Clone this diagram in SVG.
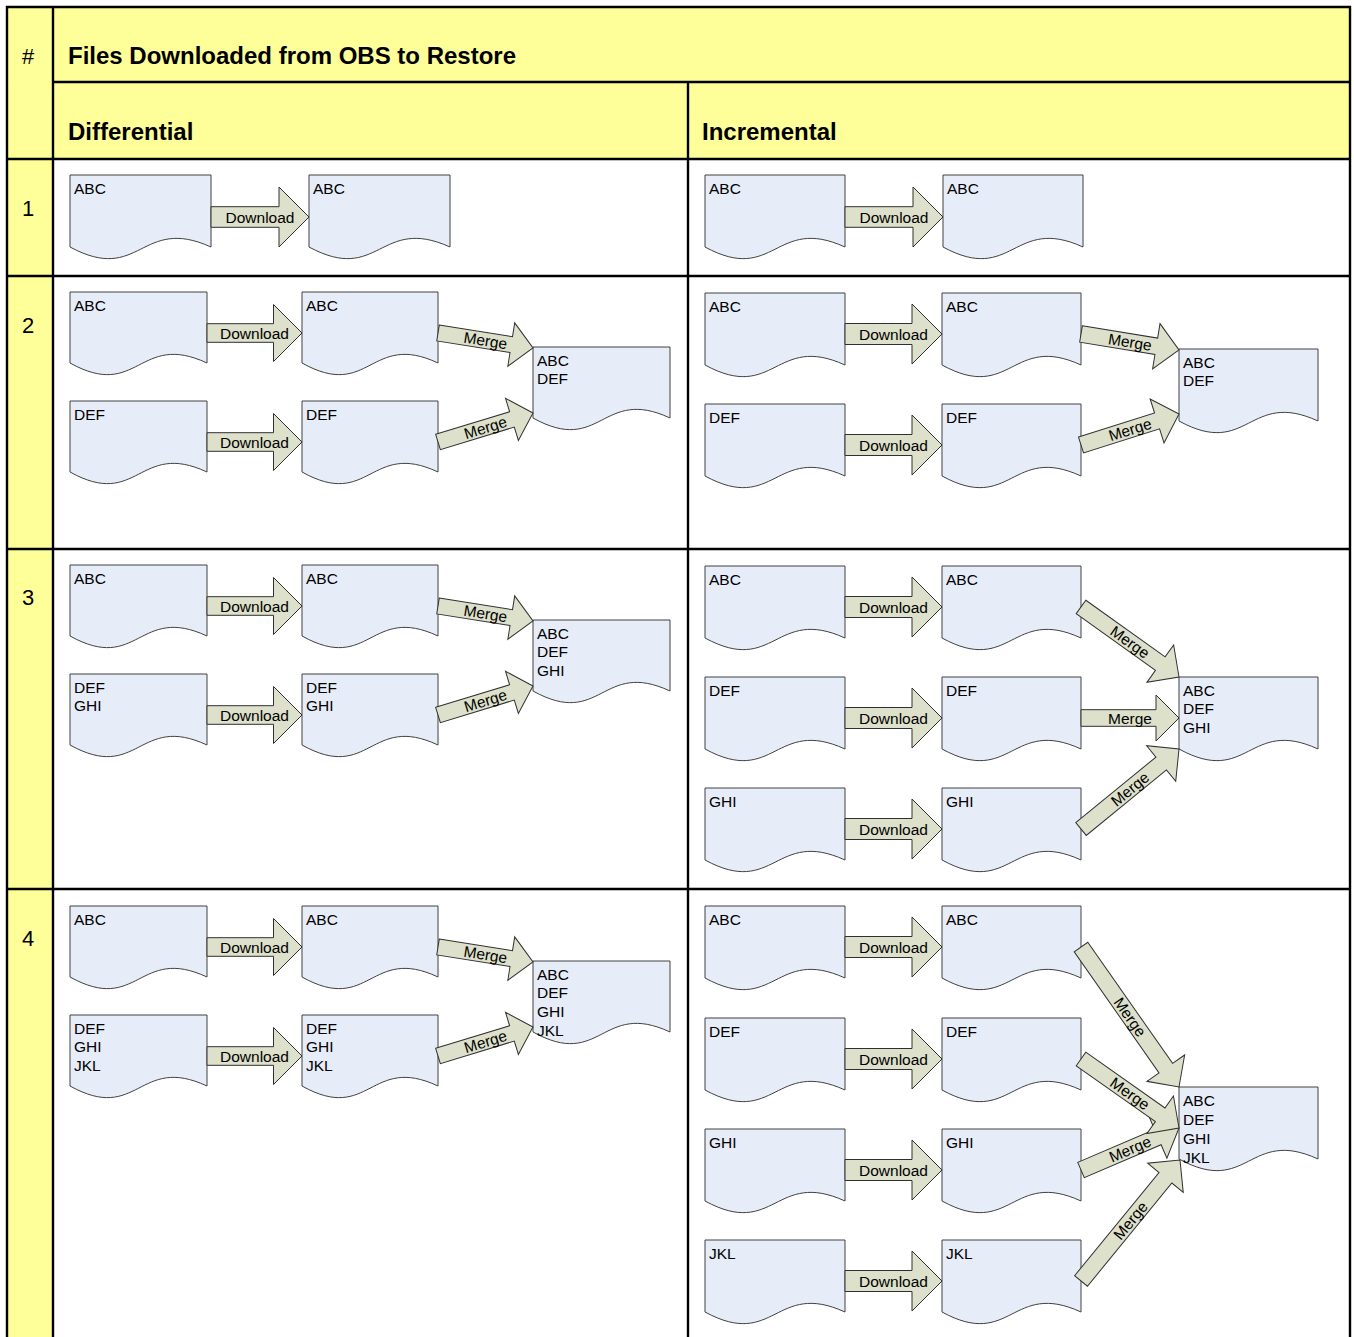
<svg xmlns="http://www.w3.org/2000/svg" xmlns:xlink="http://www.w3.org/1999/xlink" width="1354" height="1337" viewBox="0 0 1354 1337">
<style>
text{font-family:"Liberation Sans",Arial,sans-serif;fill:#000}
.t{font-size:15.5px}
.c{font-size:15.5px;text-anchor:middle}
.h{font-size:24px;font-weight:bold}
.n{font-size:22px}
.doc{fill:#E7EDF8;stroke:#404040;stroke-width:1}
.arr{fill:#DDE0CA;stroke:#303030;stroke-width:1}
.ln{stroke:#000;stroke-width:2.4;fill:none}
</style>
<defs>
<path id="d141" class="doc" d="M0,0H141V72C70.5,40 70.5,110 0,72Z"/>
<path id="d140" class="doc" d="M0,0H140V72C70,40 70,110 0,72Z"/>
<path id="d139" class="doc" d="M0,0H139V72C69.5,40 69.5,110 0,72Z"/>
<path id="d137" class="doc" d="M0,0H137V71C68.5,39 68.5,109 0,71Z"/>
<path id="d136" class="doc" d="M0,0H136V71C68,39 68,109 0,71Z"/>
<polygon id="dl1" class="arr" points="0,-10.3 68,-10.3 68,-30 98,0 68,30 68,10.3 0,10.3"/>
<polygon id="dlD" class="arr" points="0,-9.3 66.5,-9.3 66.5,-28.5 95,0 66.5,28.5 66.5,9.3 0,9.3"/>
<polygon id="dlI" class="arr" points="0,-10.5 67,-10.5 67,-30 97,0 67,30 67,10.5 0,10.5"/>
</defs>

<g id="table">
<rect x="0" y="0" width="1354" height="1337" fill="#fff"/>
<rect x="7" y="7" width="1343" height="152" fill="#FFFF99"/>
<rect x="7" y="7" width="46" height="1330" fill="#FFFF99"/>
<path class="ln" d="M7,5.8V1337M5.8,7H1351.2M1350,5.8V1337M53,7V1337M53,82H1350M5.8,159H1350M5.8,276H1350M5.8,549H1350M5.8,889H1350M688,82V1337"/>
<text class="n" x="22" y="64">#</text>
<text class="h" x="68" y="64">Files Downloaded from OBS to Restore</text>
<text class="h" x="68" y="140">Differential</text>
<text class="h" x="702" y="140">Incremental</text>
<text class="n" x="22" y="216">1</text>
<text class="n" x="22" y="333">2</text>
<text class="n" x="22" y="605">3</text>
<text class="n" x="22" y="946">4</text>
</g>

<!-- Row 1 -->
<g id="r1d_src" transform="translate(70,175)"><use xlink:href="#d141"/><text class="t" x="4" y="18.5">ABC</text></g>
<g id="r1d_dst" transform="translate(309,175)"><use xlink:href="#d141"/><text class="t" x="4" y="18.5">ABC</text></g>
<g id="r1i_src" transform="translate(705,175)"><use xlink:href="#d140"/><text class="t" x="4" y="18.5">ABC</text></g>
<g id="r1i_dst" transform="translate(943,175)"><use xlink:href="#d140"/><text class="t" x="4" y="18.5">ABC</text></g>

<!-- Row 2 differential -->
<g id="r2d_a1" transform="translate(70,292)"><use xlink:href="#d137"/><text class="t" x="4" y="18.5">ABC</text></g>
<g id="r2d_a2" transform="translate(302,292)"><use xlink:href="#d136"/><text class="t" x="4" y="18.5">ABC</text></g>
<g id="r2d_b1" transform="translate(70,401)"><use xlink:href="#d137"/><text class="t" x="4" y="18.5">DEF</text></g>
<g id="r2d_b2" transform="translate(302,401)"><use xlink:href="#d136"/><text class="t" x="4" y="18.5">DEF</text></g>
<g id="r2d_t" transform="translate(533,347)"><use xlink:href="#d137"/><text class="t" x="4" y="18.5">ABC</text><text class="t" x="4" y="37.2">DEF</text></g>

<!-- Row 3 differential -->
<g id="r3d_a1" transform="translate(70,565)"><use xlink:href="#d137"/><text class="t" x="4" y="18.5">ABC</text></g>
<g id="r3d_a2" transform="translate(302,565)"><use xlink:href="#d136"/><text class="t" x="4" y="18.5">ABC</text></g>
<g id="r3d_b1" transform="translate(70,674)"><use xlink:href="#d137"/><text class="t" x="4" y="18.5">DEF</text><text class="t" x="4" y="37.2">GHI</text></g>
<g id="r3d_b2" transform="translate(302,674)"><use xlink:href="#d136"/><text class="t" x="4" y="18.5">DEF</text><text class="t" x="4" y="37.2">GHI</text></g>
<g id="r3d_t" transform="translate(533,620)"><use xlink:href="#d137"/><text class="t" x="4" y="18.5">ABC</text><text class="t" x="4" y="37.2">DEF</text><text class="t" x="4" y="55.9">GHI</text></g>

<!-- Row 4 differential -->
<g id="r4d_a1" transform="translate(70,906)"><use xlink:href="#d137"/><text class="t" x="4" y="18.5">ABC</text></g>
<g id="r4d_a2" transform="translate(302,906)"><use xlink:href="#d136"/><text class="t" x="4" y="18.5">ABC</text></g>
<g id="r4d_b1" transform="translate(70,1015)"><use xlink:href="#d137"/><text class="t" x="4" y="18.5">DEF</text><text class="t" x="4" y="37.2">GHI</text><text class="t" x="4" y="55.9">JKL</text></g>
<g id="r4d_b2" transform="translate(302,1015)"><use xlink:href="#d136"/><text class="t" x="4" y="18.5">DEF</text><text class="t" x="4" y="37.2">GHI</text><text class="t" x="4" y="55.9">JKL</text></g>
<g id="r4d_t" transform="translate(533,961)"><use xlink:href="#d137"/><text class="t" x="4" y="18.5">ABC</text><text class="t" x="4" y="37.2">DEF</text><text class="t" x="4" y="55.9">GHI</text><text class="t" x="4" y="74.6">JKL</text></g>

<!-- Row 2 incremental -->
<g id="r2i_a1" transform="translate(705,293)"><use xlink:href="#d140"/><text class="t" x="4" y="18.5">ABC</text></g>
<g id="r2i_a2" transform="translate(942,293)"><use xlink:href="#d139"/><text class="t" x="4" y="18.5">ABC</text></g>
<g id="r2i_b1" transform="translate(705,404)"><use xlink:href="#d140"/><text class="t" x="4" y="18.5">DEF</text></g>
<g id="r2i_b2" transform="translate(942,404)"><use xlink:href="#d139"/><text class="t" x="4" y="18.5">DEF</text></g>
<g id="r2i_t" transform="translate(1179,349)"><use xlink:href="#d139"/><text class="t" x="4" y="18.5">ABC</text><text class="t" x="4" y="37.2">DEF</text></g>

<!-- Row 3 incremental -->
<g id="r3i_a1" transform="translate(705,566)"><use xlink:href="#d140"/><text class="t" x="4" y="18.5">ABC</text></g>
<g id="r3i_a2" transform="translate(942,566)"><use xlink:href="#d139"/><text class="t" x="4" y="18.5">ABC</text></g>
<g id="r3i_b1" transform="translate(705,677)"><use xlink:href="#d140"/><text class="t" x="4" y="18.5">DEF</text></g>
<g id="r3i_b2" transform="translate(942,677)"><use xlink:href="#d139"/><text class="t" x="4" y="18.5">DEF</text></g>
<g id="r3i_c1" transform="translate(705,788)"><use xlink:href="#d140"/><text class="t" x="4" y="18.5">GHI</text></g>
<g id="r3i_c2" transform="translate(942,788)"><use xlink:href="#d139"/><text class="t" x="4" y="18.5">GHI</text></g>
<g id="r3i_t" transform="translate(1179,677)"><use xlink:href="#d139"/><text class="t" x="4" y="18.5">ABC</text><text class="t" x="4" y="37.2">DEF</text><text class="t" x="4" y="55.9">GHI</text></g>

<!-- Row 4 incremental -->
<g id="r4i_a1" transform="translate(705,906)"><use xlink:href="#d140"/><text class="t" x="4" y="18.5">ABC</text></g>
<g id="r4i_a2" transform="translate(942,906)"><use xlink:href="#d139"/><text class="t" x="4" y="18.5">ABC</text></g>
<g id="r4i_b1" transform="translate(705,1018)"><use xlink:href="#d140"/><text class="t" x="4" y="18.5">DEF</text></g>
<g id="r4i_b2" transform="translate(942,1018)"><use xlink:href="#d139"/><text class="t" x="4" y="18.5">DEF</text></g>
<g id="r4i_c1" transform="translate(705,1129)"><use xlink:href="#d140"/><text class="t" x="4" y="18.5">GHI</text></g>
<g id="r4i_c2" transform="translate(942,1129)"><use xlink:href="#d139"/><text class="t" x="4" y="18.5">GHI</text></g>
<g id="r4i_d1" transform="translate(705,1240)"><use xlink:href="#d140"/><text class="t" x="4" y="18.5">JKL</text></g>
<g id="r4i_d2" transform="translate(942,1240)"><use xlink:href="#d139"/><text class="t" x="4" y="18.5">JKL</text></g>
<g id="r4i_t" transform="translate(1179,1087)"><use xlink:href="#d139"/><text class="t" x="4" y="18.5">ABC</text><text class="t" x="4" y="37.5">DEF</text><text class="t" x="4" y="56.5">GHI</text><text class="t" x="4" y="75.5">JKL</text></g>

<g id="connectors">
<!-- Download arrows -->
<g transform="translate(211,217)"><use xlink:href="#dl1"/><text class="c" x="49" y="5.5">Download</text></g>
<g transform="translate(845,217)"><use xlink:href="#dl1"/><text class="c" x="49" y="5.5">Download</text></g>

<g transform="translate(207,333)"><use xlink:href="#dlD"/><text class="c" x="47.5" y="5.5">Download</text></g>
<g transform="translate(207,442)"><use xlink:href="#dlD"/><text class="c" x="47.5" y="5.5">Download</text></g>
<g transform="translate(207,606)"><use xlink:href="#dlD"/><text class="c" x="47.5" y="5.5">Download</text></g>
<g transform="translate(207,715)"><use xlink:href="#dlD"/><text class="c" x="47.5" y="5.5">Download</text></g>
<g transform="translate(207,947)"><use xlink:href="#dlD"/><text class="c" x="47.5" y="5.5">Download</text></g>
<g transform="translate(207,1056)"><use xlink:href="#dlD"/><text class="c" x="47.5" y="5.5">Download</text></g>

<g transform="translate(845,334)"><use xlink:href="#dlI"/><text class="c" x="48.5" y="5.5">Download</text></g>
<g transform="translate(845,445)"><use xlink:href="#dlI"/><text class="c" x="48.5" y="5.5">Download</text></g>
<g transform="translate(845,607)"><use xlink:href="#dlI"/><text class="c" x="48.5" y="5.5">Download</text></g>
<g transform="translate(845,718)"><use xlink:href="#dlI"/><text class="c" x="48.5" y="5.5">Download</text></g>
<g transform="translate(845,829)"><use xlink:href="#dlI"/><text class="c" x="48.5" y="5.5">Download</text></g>
<g transform="translate(845,947)"><use xlink:href="#dlI"/><text class="c" x="48.5" y="5.5">Download</text></g>
<g transform="translate(845,1059)"><use xlink:href="#dlI"/><text class="c" x="48.5" y="5.5">Download</text></g>
<g transform="translate(845,1170)"><use xlink:href="#dlI"/><text class="c" x="48.5" y="5.5">Download</text></g>
<g transform="translate(845,1281)"><use xlink:href="#dlI"/><text class="c" x="48.5" y="5.5">Download</text></g>

<!-- Merge arrows: differential -->
<g transform="translate(438,333) rotate(8.97)"><polygon class="arr" points="0,-8 74.18,-8 74.18,-22 96.18,0 74.18,22 74.18,8 0,8"/><text class="c" x="48.09" y="5.5">Merge</text></g>
<g transform="translate(438,442) rotate(-16.98)"><polygon class="arr" points="0,-8 77.33,-8 77.33,-22 99.33,0 77.33,22 77.33,8 0,8"/><text class="c" x="49.67" y="5.5">Merge</text></g>
<g transform="translate(438,606) rotate(8.97)"><polygon class="arr" points="0,-8 74.18,-8 74.18,-22 96.18,0 74.18,22 74.18,8 0,8"/><text class="c" x="48.09" y="5.5">Merge</text></g>
<g transform="translate(438,715) rotate(-16.98)"><polygon class="arr" points="0,-8 77.33,-8 77.33,-22 99.33,0 77.33,22 77.33,8 0,8"/><text class="c" x="49.67" y="5.5">Merge</text></g>
<g transform="translate(438,947) rotate(8.97)"><polygon class="arr" points="0,-8 74.18,-8 74.18,-22 96.18,0 74.18,22 74.18,8 0,8"/><text class="c" x="48.09" y="5.5">Merge</text></g>
<g transform="translate(438,1056) rotate(-16.98)"><polygon class="arr" points="0,-8 77.33,-8 77.33,-22 99.33,0 77.33,22 77.33,8 0,8"/><text class="c" x="49.67" y="5.5">Merge</text></g>

<!-- Merge arrows: incremental -->
<g transform="translate(1081,334) rotate(9.27)"><polygon class="arr" points="0,-8.3 76.3,-8.3 76.3,-23 99.3,0 76.3,23 76.3,8.3 0,8.3"/><text class="c" x="49.65" y="5.5">Merge</text></g>
<g transform="translate(1081,445) rotate(-17.55)"><polygon class="arr" points="0,-8.3 79.79,-8.3 79.79,-23 102.79,0 79.79,23 79.79,8.3 0,8.3"/><text class="c" x="51.4" y="5.5">Merge</text></g>

<g transform="translate(1081,607) rotate(35.54)"><polygon class="arr" points="0,-8.3 97.43,-8.3 97.43,-23 120.43,0 97.43,23 97.43,8.3 0,8.3"/><text class="c" x="60.2" y="5.5">Merge</text></g>
<g transform="translate(1081,718)"><polygon class="arr" points="0,-8.3 75,-8.3 75,-23 98,0 75,23 75,8.3 0,8.3"/><text class="c" x="49" y="5.5">Merge</text></g>
<g transform="translate(1081,829) rotate(-39.23)"><polygon class="arr" points="0,-8.3 103.51,-8.3 103.51,-23 126.51,0 103.51,23 103.51,8.3 0,8.3"/><text class="c" x="63.25" y="5.5">Merge</text></g>

<g transform="translate(1081,947) rotate(55.01)"><polygon class="arr" points="0,-8.3 147.89,-8.3 147.89,-23 170.89,0 147.89,23 147.89,8.3 0,8.3"/><text class="c" x="85.45" y="5.5">Merge</text></g>
<g transform="translate(1081,1170) rotate(-23.2)"><polygon class="arr" points="0,-8.3 83.62,-8.3 83.62,-23 106.62,0 83.62,23 83.62,8.3 0,8.3"/><text class="c" x="53.3" y="5.5">Merge</text></g>
<g transform="translate(1081,1059) rotate(35.15)"><polygon class="arr" points="0,-8.3 96.85,-8.3 96.85,-23 119.85,0 96.85,23 96.85,8.3 0,8.3"/><text class="c" x="59.9" y="5.5">Merge</text></g>
<g transform="translate(1081,1281) rotate(-50.71)"><polygon class="arr" points="0,-8.3 133.34,-8.3 133.34,-23 156.34,0 133.34,23 133.34,8.3 0,8.3"/><text class="c" x="78.17" y="5.5">Merge</text></g>
</g>
</svg>
